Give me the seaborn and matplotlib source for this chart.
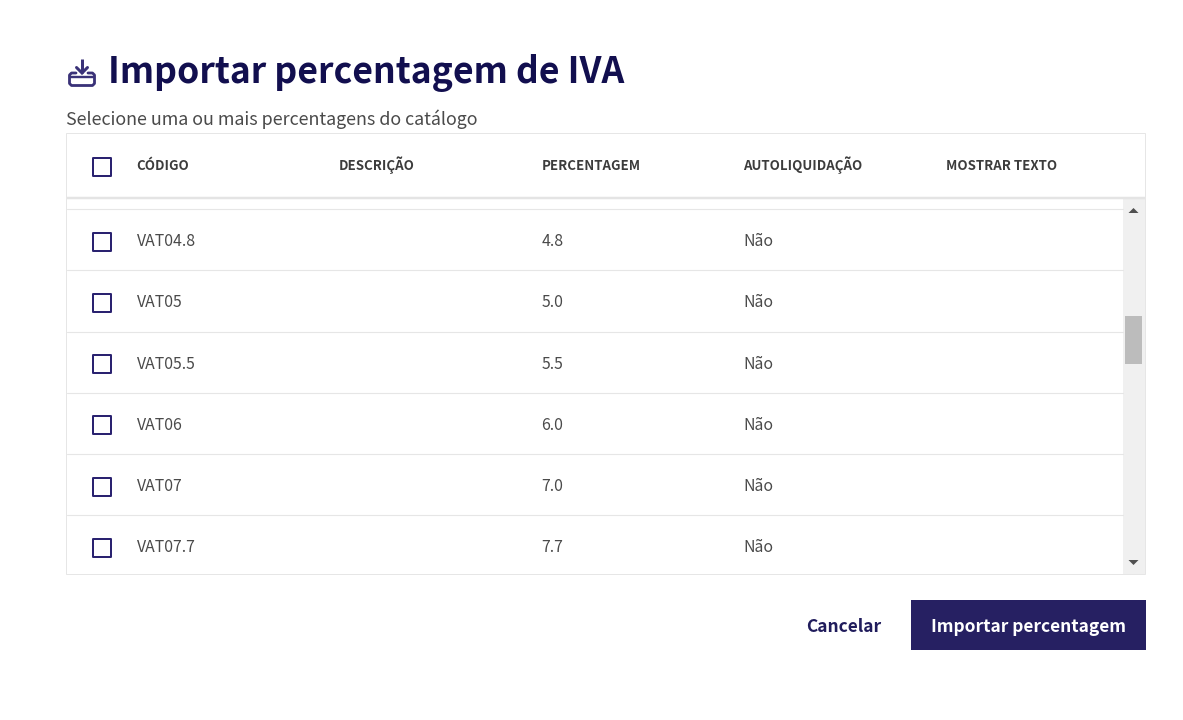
import numpy as np
import pandas as pd
import matplotlib
matplotlib.use("Agg")
import matplotlib.pyplot as plt
from matplotlib.patches import Rectangle, Polygon
import seaborn as sns

title = "Importar percentagem de IVA"
subtitle = "Selecione uma ou mais percentagens do catálogo"
headers = ["CÓDIGO", "DESCRIÇÃO", "PERCENTAGEM", "AUTOLIQUIDAÇÃO", "MOSTRAR TEXTO"]
codes = ["VAT04.8", "VAT05", "VAT05.5", "VAT06", "VAT07", "VAT07.7"]
percentages = ["4.8", "5.0", "5.5", "6.0", "7.0", "7.7"]
reverse_charge = ["Não", "Não", "Não", "Não", "Não", "Não"]
cancel_label = "Cancelar"
import_label = "Importar percentagem"

NAVY = "#120f4f"
BOX = "#2a2270"
TEXT = "#4a4a4a"
LINE = "#e6e6e6"
W, H = 1183, 720

sns.set_theme(style="white")
plt.rcParams["font.family"] = ["Noto Sans CJK SC", "DejaVu Sans"]

fig = plt.figure(figsize=(W / 100, H / 100), dpi=100, facecolor="white")
ax = fig.add_axes([0, 0, 1, 1])
ax.set_xlim(0, W)
ax.set_ylim(H, 0)
ax.axis("off")

row_top = 209.2
row_h = 61.2
col_x = [136.6, 339, 541.5, 743.4, 946.5]
px = 0.72

rows = pd.DataFrame({"code": codes, "pct": percentages, "rc": reverse_charge})
rows["y"] = row_top + row_h * (rows.index + 0.5)
rows["box_x"] = 102.0

# table frame
ax.add_patch(Rectangle((66.5, 133), 1079, 441, fc="white", ec=LINE, lw=1 * px))
ax.plot([67, 1145], [198, 198], color="#e4e4e4", lw=2.5 * px, solid_capstyle="butt")
for i in range(6):
    y = row_top + row_h * i
    ax.plot([67, 1123], [y, y], color=LINE, lw=1.1 * px)

# scrollbar
ax.add_patch(Rectangle((1123, 199), 22, 375, fc="#f0f0f0", ec="none"))
ax.add_patch(Rectangle((1125, 316), 17, 48, fc="#bcbcbc", ec="none"))
ax.add_patch(Polygon([[1128.5, 213], [1138.5, 213], [1133.5, 208]], fc="#505050", ec="none"))
ax.add_patch(Polygon([[1128.5, 560], [1138.5, 560], [1133.5, 565]], fc="#505050", ec="none"))

# checkboxes
side = 18.0 * px
sns.scatterplot(x=rows["box_x"], y=rows["y"] + 1.9, marker="s", s=side ** 2, facecolor="none",
                edgecolor=BOX, linewidth=2.0 * px, ax=ax, legend=False, clip_on=False)
sns.scatterplot(x=[102.0], y=[166.5], marker="s", s=side ** 2, facecolor="none",
                edgecolor=BOX, linewidth=2.0 * px, ax=ax, legend=False)

# text
ax.text(108.5, 82.5, title, fontsize=35.56 * px, fontweight="bold", color=NAVY, va="baseline")
ax.text(66, 125, subtitle, fontsize=17.9 * px, color=TEXT, va="baseline")
for x, h in zip(col_x, headers):
    ax.text(x, 170, h, fontsize=13.25 * px, fontweight="bold", color="#3c3c3c", va="baseline")
for _, r in rows.iterrows():
    base = r["y"] + 6.4
    ax.text(col_x[0], base, r["code"], fontsize=15.8 * px, color=TEXT, va="baseline")
    ax.text(col_x[2], base, r["pct"], fontsize=15.8 * px, color=TEXT, va="baseline")
    ax.text(col_x[3], base, r["rc"], fontsize=15.8 * px, color=TEXT, va="baseline")

# icon
ic = "#3a3278"
ax.plot([82, 82], [58.5, 73], color=ic, lw=3 * px, solid_capstyle="butt")
ax.plot([76.5, 82, 87.5], [67.5, 73, 67.5], color=ic, lw=3 * px, solid_joinstyle="miter")
ax.plot([76, 71.5, 69.5, 69.5, 71.5, 92.5, 94.5, 94.5, 92.5, 88],
        [73, 73, 75, 83.5, 85.5, 85.5, 83.5, 75, 73, 73],
        color=ic, lw=2.8 * px, solid_joinstyle="round")
ax.plot([70, 94], [77, 77], color=ic, lw=2.4 * px)

# buttons
ax.add_patch(Rectangle((911, 600), 235, 50, fc="#262062", ec="none"))
ax.text(1028.5, 632, import_label, fontsize=17.35 * px, fontweight="bold", color="white", ha="center", va="baseline")
ax.text(843.5, 632, cancel_label, fontsize=17.35 * px, fontweight="bold", color="#201c5c", ha="center", va="baseline")

fig.savefig("out.png", dpi=100, facecolor="white")
